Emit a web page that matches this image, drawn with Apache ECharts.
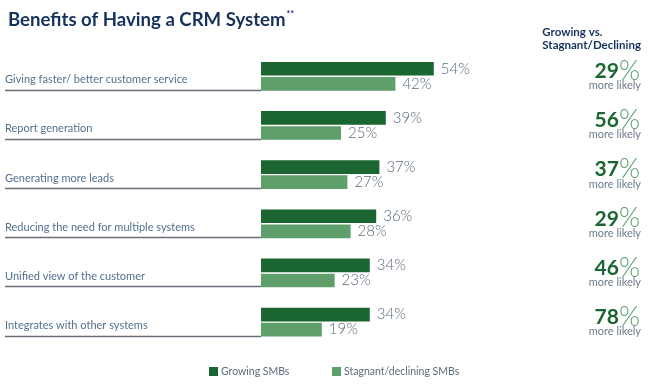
<!DOCTYPE html>
<html><head><meta charset="utf-8">
<script src="https://cdn.jsdelivr.net/npm/echarts@6/dist/echarts.min.js"></script>
<style>html,body{margin:0;padding:0;background:#fff}#c{width:657px;height:390px}</style>
</head><body><div id="c"></div>
<script>
const categories = ["Giving faster/ better customer service","Report generation","Generating more leads","Reducing the need for multiple systems","Unified view of the customer","Integrates with other systems"];
const growing = [54,39,37,36,34,34];
const stagnant = [42,25,27,28,23,19];
const likelihood = ["29","56","37","29","46","78"];
const seriesNames = ["Growing SMBs","Stagnant/declining SMBs"];

const DARK = '#1b6630', LIGHT = '#5f9f6b';
const chart = echarts.init(document.getElementById('c'), null, {renderer:'canvas'});
const FONT = 'Lato';
const legendText = {fontFamily:FONT,fontSize:10.5,color:'#5b6b7b',padding:[0,0,0,-2]};
chart.setOption({
  animation:false,
  title:{
    left:3, top:5,
    text:'{t|Benefits of Having a CRM System}{s|**}',
    textStyle:{rich:{
      t:{fontFamily:FONT,fontWeight:'bold',fontSize:18.6,color:'#16325c'},
      s:{fontFamily:FONT,fontWeight:'bold',fontSize:9,color:'#16325c',verticalAlign:'top',padding:[0,0,8,1]}
    }}
  },
  graphic:[
    {type:'text',right:16,top:26,style:{text:'Growing vs.\nStagnant/Declining',align:'right',fontFamily:FONT,fontWeight:'bold',fontSize:11.5,lineHeight:13,fill:'#16325c'}}
  ],
  legend:[
    {left:209, top:366, padding:0, itemWidth:9, itemHeight:9, icon:'rect', data:[seriesNames[0]], textStyle:legendText},
    {left:332, top:366, padding:0, itemWidth:9, itemHeight:9, icon:'rect', data:[seriesNames[1]], textStyle:legendText}
  ],
  grid:{left:261, top:51.7, width:320, height:295},
  xAxis:{type:'value',min:0,max:100,show:false},
  yAxis:{type:'category',inverse:true,data:categories,
    axisLine:{show:false},axisTick:{show:false},axisLabel:{show:false}
  },
  series:[
    {name:seriesNames[0],type:'bar',data:growing,barWidth:13.7,barGap:'10%',itemStyle:{color:DARK},
      label:{show:true,position:'right',distance:7,formatter:'{c}%',fontFamily:FONT,fontWeight:300,fontSize:15,color:'#5b6b7b'}},
    {name:seriesNames[1],type:'bar',data:stagnant,barWidth:13.7,barGap:'10%',itemStyle:{color:LIGHT},
      label:{show:true,position:'right',distance:7,formatter:'{c}%',fontFamily:FONT,fontWeight:300,fontSize:15,color:'#5b6b7b'}},
    {type:'custom',silent:true,data:categories.map((c,i)=>[0,i]),encode:{x:0,y:1},z:1,
      renderItem:function(params,api){
        const p = api.coord([0, api.value(1)]);
        const y = Math.round(p[1]+13.5)+0.5;
        return {type:'group',children:[
          {type:'line',shape:{x1:5,y1:y,x2:p[0],y2:y},style:{stroke:'#6b6e7a',lineWidth:1.3}},
          {type:'text',x:5,y:p[1]+3.5,style:{text:categories[params.dataIndex],align:'left',verticalAlign:'middle',fontFamily:FONT,fontSize:11,fill:'#52708e'}}
        ]};
      }},
    {type:'custom',silent:true,data:likelihood.map((v,i)=>[0,i,v]),encode:{x:0,y:1},z:3,
      renderItem:function(params,api){
        const p = api.coord([0, api.value(1)]);
        const v = likelihood[params.dataIndex];
        return {type:'group',children:[
          {type:'text',x:640,y:p[1]-5,style:{text:'{n|'+v+'}{p|%}',align:'right',verticalAlign:'middle',
            rich:{n:{fontFamily:FONT,fontWeight:'bold',fontSize:21,fill:'#1b6630',color:'#1b6630'},
                  p:{fontFamily:FONT,fontWeight:300,fontSize:27,fill:'#5aa06a',color:'#5aa06a'}}}},
          {type:'text',x:641,y:p[1]+9.5,style:{text:'more likely',align:'right',verticalAlign:'middle',fontFamily:FONT,fontSize:11,fill:'#6b7b8b'}}
        ]};
      }}
  ]
});
</script></body></html>
